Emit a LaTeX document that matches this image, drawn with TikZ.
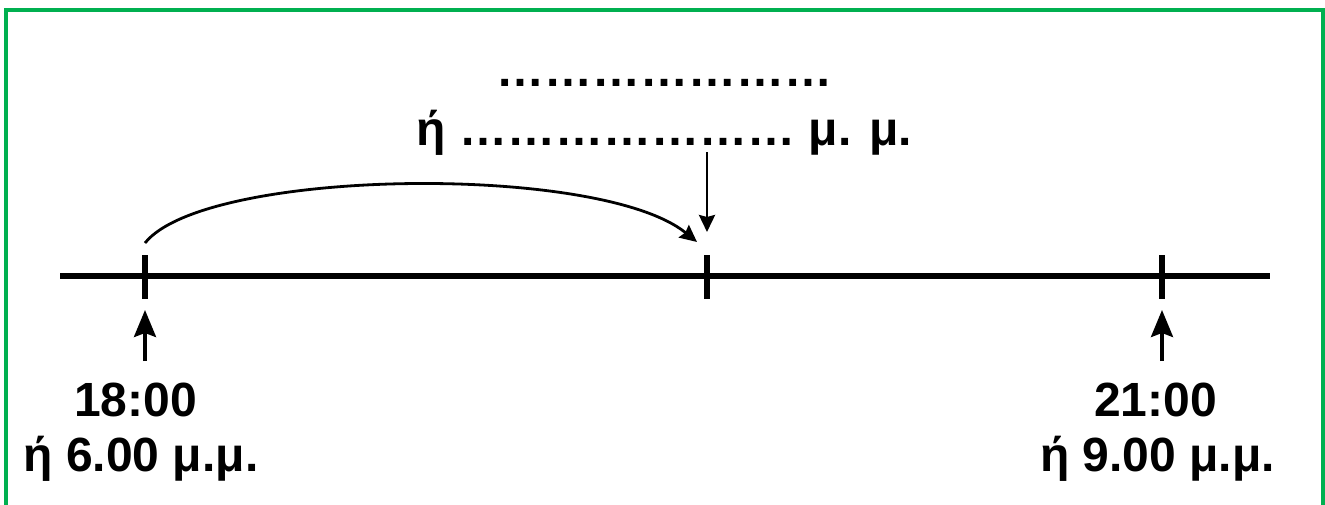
\documentclass[tikz,border=0pt]{standalone}
\usepackage{fontspec}
\setmainfont{Liberation Sans}
\usetikzlibrary{arrows.meta}
\definecolor{framegreen}{RGB}{0,176,80}
\newcommand{\sevell}{\symbol{"2026}\symbol{"2026}\symbol{"2026}\symbol{"2026}\symbol{"2026}\symbol{"2026}\symbol{"2026}}
\begin{document}
\begin{tikzpicture}[x=1pt,y=-1pt,
  lbl/.style={font=\fontsize{48}{56}\selectfont\bfseries, inner sep=0pt, anchor=base},
  axisline/.style={line width=6.5pt},
  tickmark/.style={line width=6.5pt},
  uparr/.style={line width=3.5pt,-{Stealth[length=27pt,width=22pt,inset=4pt]}},
  thinarr/.style={line width=2.8pt,-{Stealth[length=17pt,width=16pt,inset=2pt]}},
  frameline/.style={draw=framegreen,line width=4.5pt}
]
\useasboundingbox (0,0) rectangle (1325,504);
\draw[frameline] (6,530) -- (6,10) -- (1323.5,10) -- (1323.5,530);

% axis and ticks
\coordinate (axL) at (60,276);
\coordinate (axR) at (1270,276);
\draw[axisline] (axL) -- (axR);
\coordinate (k1t) at (145,255); \coordinate (k1b) at (145,299);
\coordinate (k2t) at (707,255); \coordinate (k2b) at (707,299);
\coordinate (k3t) at (1162,255); \coordinate (k3b) at (1162,299);
\draw[tickmark] (k1t) -- (k1b);
\draw[tickmark] (k2t) -- (k2b);
\draw[tickmark] (k3t) -- (k3b);

% top texts
\node[lbl] (top1) at (664.5,86) {\sevell};
\node[lbl] (top2) at (664.5,145) {ή \sevell{} μ. μ.};

% bottom labels
\node[lbl] (l1a) at (135.5,416) {18:00};
\node[lbl] (l1b) at (141,471) {ή 6.00 μ.μ.};
\node[lbl] (l2a) at (1155.5,416) {21:00};
\node[lbl] (l2b) at (1157.5,471) {ή 9.00 μ.μ.};

% up arrows
\coordinate (u1s) at (145,361); \coordinate (u1e) at (145,310);
\coordinate (u2s) at (1162,361); \coordinate (u2e) at (1162,310);
\draw[uparr] (u1s) -- (u1e);
\draw[uparr] (u2s) -- (u2e);

% down arrow
\coordinate (d1s) at (707,152); \coordinate (d1e) at (707,232);
\draw[thinarr] (d1s) -- (d1e);

% curved arrow
\coordinate (c1s) at (145,243); \coordinate (c1e) at (697,242);
\draw[thinarr] (c1s) .. controls (205,168) and (600,163) .. (c1e);
\end{tikzpicture}
\end{document}
